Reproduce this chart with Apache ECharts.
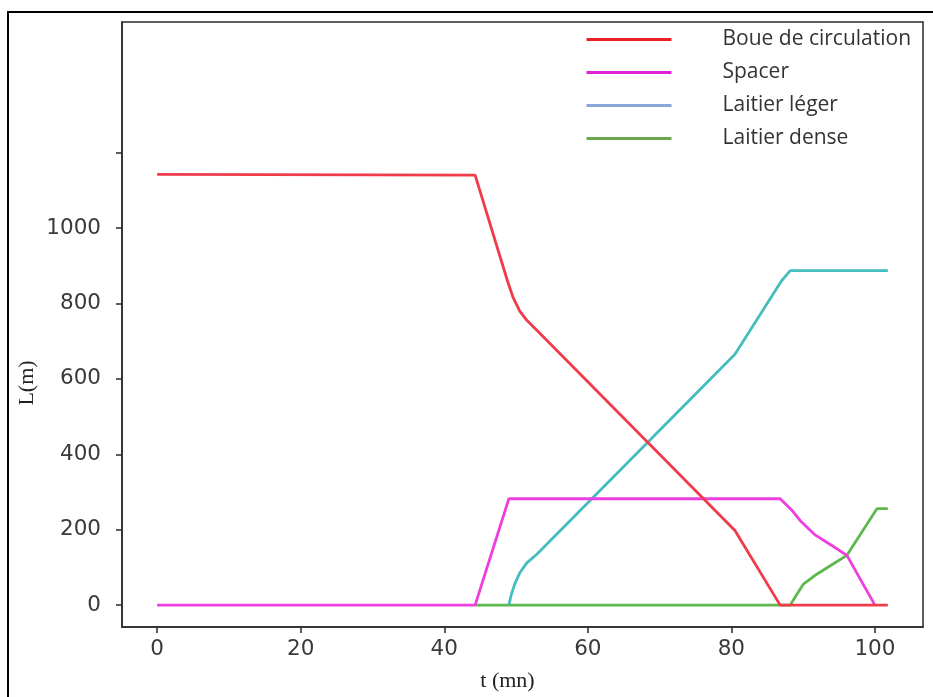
<!DOCTYPE html>
<html>
<head>
<meta charset="utf-8">
<title>L(m) vs t (mn)</title>
<script src="https://cdn.jsdelivr.net/npm/echarts@6/dist/echarts.min.js"></script>
<style>
  html, body { margin: 0; padding: 0; background: #fff; }
  #chart { width: 933px; height: 697px; }
</style>
</head>
<body>
<div id="chart"></div>
<script>
// values
const seriesNames = ['Boue de circulation', 'Spacer', 'Laitier léger', 'Laitier dense']

const tBoue = [0, 44.3, 48.8, 49.6, 50.5, 51.5, 53, 80.5, 86.8, 101.8]
const boue = [1142, 1140, 860, 815, 780, 755, 727, 198, 0, 0]

const tSpacer = [0, 44.3, 49.0, 86.8, 88.5, 89.6, 91.6, 94, 96.1, 100.0]
const spacer = [0, 0, 282, 282, 250, 224, 187, 158, 132, 0]

const tLeger = [49.0, 49.3, 49.8, 50.5, 51.5, 52.9, 80.5, 87, 88.2, 101.8]
const leger = [0, 25, 55, 85, 112, 135, 665, 860, 887, 887]

const tDense = [44.3, 88.2, 89, 90, 91.9, 94, 96.1, 100.3, 101.8]
const dense = [0, 0, 25, 55, 82, 107, 132, 256, 256]

const xTicks = [0, 20, 40, 60, 80, 100]
const yTicks = [0, 200, 400, 600, 800, 1000, 1200]
const yLabels = [0, 200, 400, 600, 800, 1000]

const colors = ['#f03c4a', '#ee3ee0', '#45bdbd', '#5fb84e']

function pairs(xs, ys) {
  return xs.map((x, i) => [x, ys[i]])
}

const chart = echarts.init(document.getElementById('chart'))

const axisText = { color: '#3a3a3a', fontFamily: 'DejaVu Sans', fontSize: 21.5 }

function line(name, xs, ys, color, z) {
  return {
    name: name,
    type: 'line',
    data: pairs(xs, ys),
    symbol: 'none',
    z: z,
    animation: false,
    itemStyle: { color: color },
    lineStyle: { color: color, width: 2.8 }
  }
}

chart.setOption({
  backgroundColor: '#fff',
  grid: {
    left: 122,
    right: 10,
    top: 22,
    bottom: 67,
    show: true,
    borderColor: '#2a2a2a',
    borderWidth: 1.5
  },
  legend: {
    left: 580,
    top: 24,
    orient: 'vertical',
    itemWidth: 85,
    itemHeight: 14,
    itemGap: 12,
    itemStyle: { opacity: 0 },
    data: [
      { name: seriesNames[0], lineStyle: { color: '#e8202a', width: 3 } },
      { name: seriesNames[1], lineStyle: { color: '#e020d6', width: 3 } },
      { name: seriesNames[2], lineStyle: { color: '#8aa6d6', width: 3 } },
      { name: seriesNames[3], lineStyle: { color: '#6aa84f', width: 3 } }
    ],
    textStyle: {
      color: '#333',
      fontFamily: 'Open Sans',
      fontSize: 21,
      padding: [0, 0, 0, 46]
    }
  },
  xAxis: {
    type: 'value',
    min: -4.9,
    max: 106.7,
    splitLine: { show: false },
    axisLine: { onZero: false, lineStyle: { color: '#2a2a2a', width: 1.5 } },
    axisTick: { length: 6, customValues: xTicks, lineStyle: { color: '#2a2a2a', width: 1.5 } },
    axisLabel: Object.assign({ margin: 11, customValues: xTicks }, axisText),
    name: 't (mn)',
    nameLocation: 'middle',
    nameGap: 43,
    nameTextStyle: {
      color: '#222',
      fontFamily: 'Liberation Serif',
      fontSize: 22,
      padding: [0, 30, 0, 0]
    }
  },
  yAxis: {
    type: 'value',
    min: -58,
    max: 1546,
    splitLine: { show: false },
    axisLine: { onZero: false, lineStyle: { color: '#2a2a2a', width: 1.5 } },
    axisTick: { length: 6, customValues: yTicks, lineStyle: { color: '#2a2a2a', width: 1.5 } },
    axisLabel: Object.assign({
      margin: 21,
      customValues: yLabels,
      formatter: v => String(v)
    }, axisText)
  },
  graphic: [
    {
      type: 'rect',
      shape: { x: 8, y: 12, width: 960, height: 720 },
      style: { fill: null, stroke: '#000', lineWidth: 2 },
      silent: true
    },
    {
      type: 'text',
      x: 27,
      y: 383,
      rotation: Math.PI / 2,
      style: {
        text: 'L(m)',
        fill: '#222',
        font: '22px "Liberation Serif"',
        align: 'center',
        verticalAlign: 'middle'
      }
    }
  ],
  series: [
    line(seriesNames[0], tBoue, boue, colors[0], 5),
    line(seriesNames[1], tSpacer, spacer, colors[1], 4),
    line(seriesNames[2], tLeger, leger, colors[2], 3),
    line(seriesNames[3], tDense, dense, colors[3], 2)
  ]
})
</script>
</body>
</html>
